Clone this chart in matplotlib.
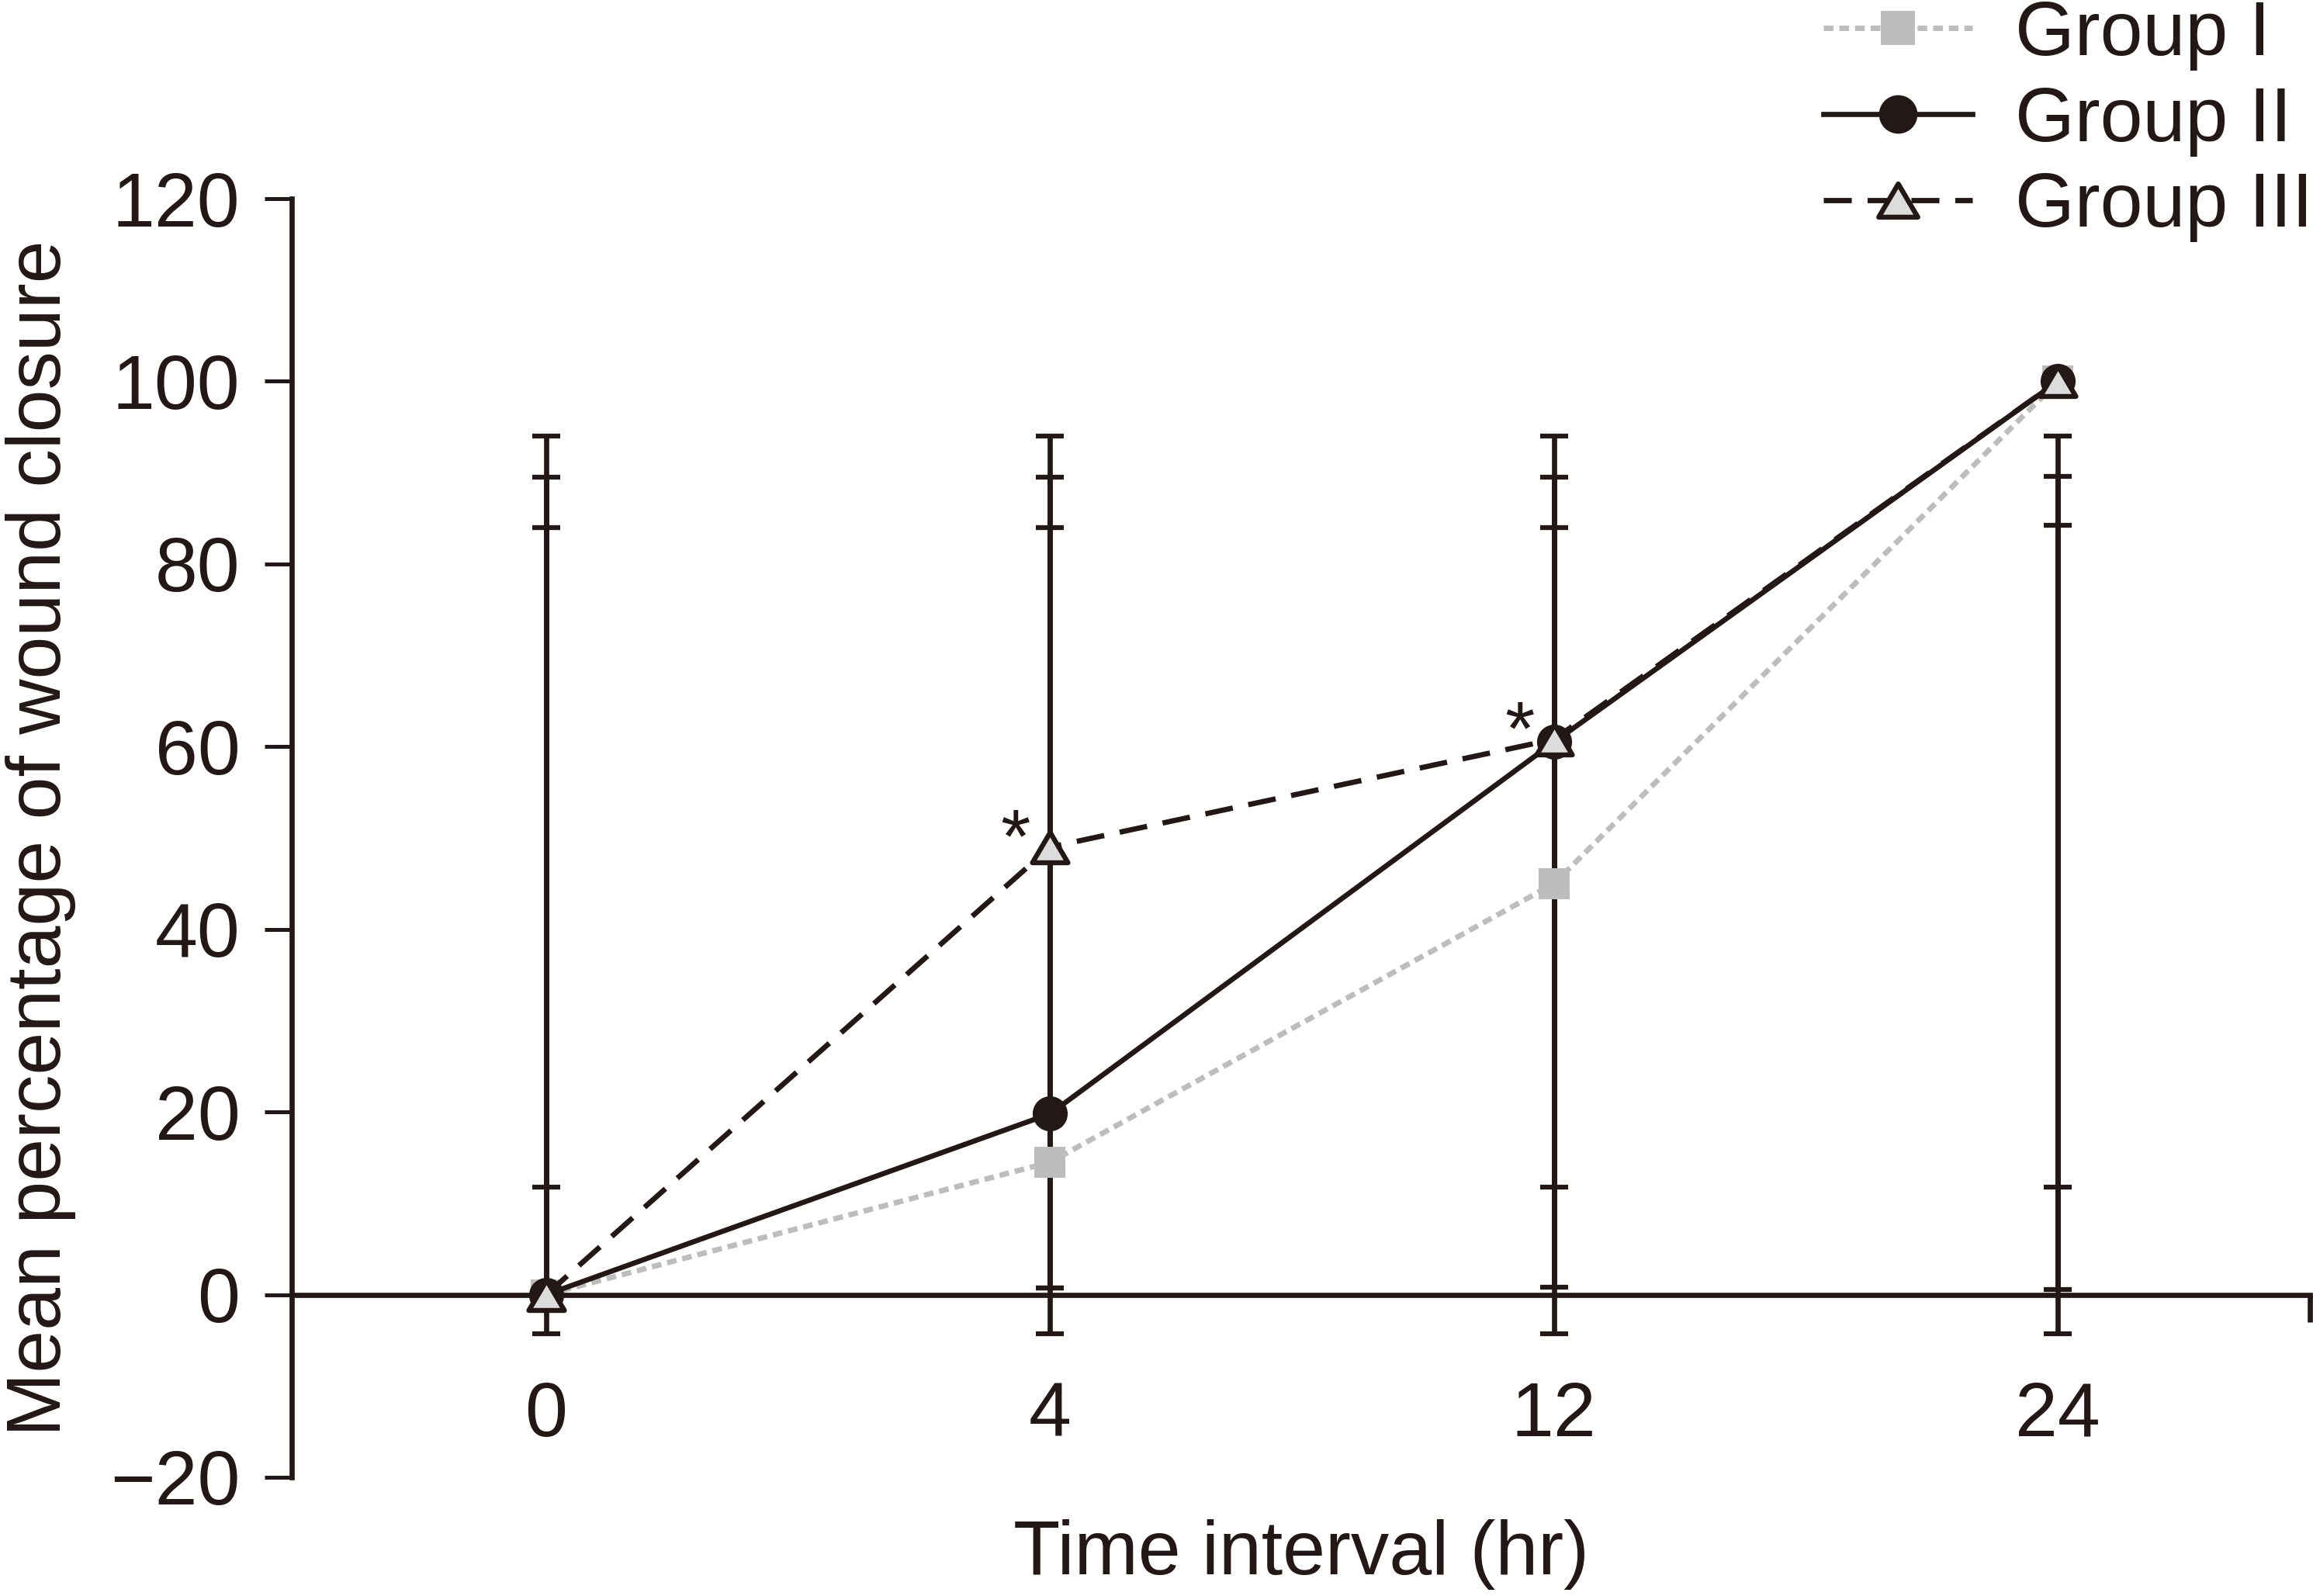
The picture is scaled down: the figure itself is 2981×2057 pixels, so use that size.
import numpy as np
import matplotlib.pyplot as plt
from matplotlib.path import Path

# categories on the x axis (equally spaced)
time_labels = ["0", "4", "12", "24"]
group_names = ["Group I", "Group II", "Group III"]

# mean % wound closure
group1_mean = [0.0, 14.5, 45.0, 100.0]
group2_mean = [0.0, 19.8, 60.5, 100.0]
group3_mean = [0.0, 49.0, 60.8, 100.0]

# whisker ends as drawn in the figure
group1_low = [-4.3, -4.3, -4.3, -4.3]
group1_high = [94.0, 94.0, 94.0, 94.0]
group2_low = [0.7, 0.7, 0.8, 0.6]
group2_high = [89.5, 89.5, 89.5, 89.6]
group3_low = [11.8, 0.7, 11.8, 11.8]
group3_high = [84.0, 84.0, 84.0, 84.2]

# time points marked as significant (index into time_labels)
star_idx = [1, 2]

BLACK = "#231815"
GRAY = "#bdbdbd"
LIGHT = "#dcdcdc"
FS = 71

plt.rcParams["font.family"] = ["Liberation Sans", "DejaVu Sans"]
plt.rcParams["text.color"] = BLACK
plt.rcParams["axes.labelcolor"] = BLACK
plt.rcParams["xtick.color"] = BLACK
plt.rcParams["ytick.color"] = BLACK

# slightly flattened triangle marker
tri = Path([(0, 0.85), (-1, -0.85), (1, -0.85), (0, 0.85)],
           [Path.MOVETO, Path.LINETO, Path.LINETO, Path.CLOSEPOLY])

fig = plt.figure(figsize=(29.81, 20.57), dpi=100)
ax = fig.add_axes([376 / 2981, 1 - 1904 / 2057, (2977 - 376) / 2981, (1904 - 256) / 2057])

x = np.arange(len(time_labels))

for low, high in [(group1_low, group1_high), (group2_low, group2_high), (group3_low, group3_high)]:
    low = np.asarray(low)
    high = np.asarray(high)
    ax.errorbar(x, (low + high) / 2, yerr=(high - low) / 2, fmt="none",
                ecolor=BLACK, elinewidth=4.8, capsize=13, capthick=4.5, zorder=2)

l1, = ax.plot(x, group1_mean, color=GRAY, lw=5, dashes=(1.8, 1.1),
              marker="s", ms=29, mfc=GRAY, mec=GRAY, mew=0, zorder=3)
l2, = ax.plot(x, group2_mean, color=BLACK, lw=4.8,
              marker="o", ms=32.5, mfc=BLACK, mec=BLACK, mew=0, zorder=4)
l3, = ax.plot(x, group3_mean, color=BLACK, lw=4.9, dashes=(5.3, 3.0),
              marker=tri, ms=33, mfc=LIGHT, mec=BLACK, mew=4.6, zorder=5)

for i in star_idx:
    ax.annotate("*", (x[i], group3_mean[i]), xytext=(-32, -14), textcoords="offset points",
                ha="center", va="baseline", fontsize=FS, color=BLACK, zorder=6)

ax.set_xlim(-0.505, 3.5)
ax.set_ylim(-20, 120)
ax.spines["top"].set_visible(False)
ax.spines["right"].set_visible(False)
ax.spines["bottom"].set_position(("data", 0))
for s in ["left", "bottom"]:
    ax.spines[s].set_linewidth(4.8)
    ax.spines[s].set_color(BLACK)

ax.set_xticks(x, time_labels)
ax.set_xticks([3.5], minor=True)
ax.tick_params(axis="x", which="major", length=0, pad=80, labelsize=FS)
ax.tick_params(axis="x", which="minor", length=25, width=4.8, direction="out")
ax.set_yticks(np.arange(-20, 121, 20))
ax.tick_params(axis="y", length=25, width=3.6, pad=23, labelsize=FS)

ax.set_xlabel("Time interval (hr)", fontsize=FS, labelpad=63)
ax.set_ylabel("Mean percentage of wound closure", fontsize=FS, labelpad=32)

fig.legend([l1, l2, l3], group_names, loc="center left",
           bbox_to_anchor=(2350 / 2981, 1 - 156 / 2057), frameon=False,
           borderpad=0, borderaxespad=0, handlelength=1.95, handletextpad=0.55,
           labelspacing=0.2, fontsize=FS, markerscale=1.1)

fig.savefig("out.png", dpi=100)
